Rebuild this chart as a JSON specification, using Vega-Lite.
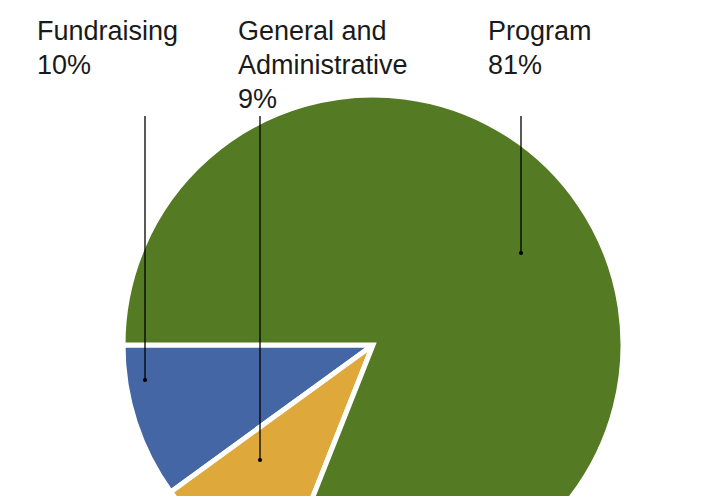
{
  "$schema": "https://vega.github.io/schema/vega-lite/v6.json",
  "width": 682,
  "height": 302,
  "autosize": {"type": "none"},
  "padding": {"left": 32, "top": 194, "right": 0, "bottom": 0},
  "background": "white",
  "config": {"view": {"stroke": null}},
  "data": {
    "values": [
      {"category": "Fundraising", "pct": 10, "order": 1, "label": "Fundraising\n10%"},
      {"category": "General and Administrative", "pct": 9, "order": 2, "label": "General and\nAdministrative\n9%"},
      {"category": "Program", "pct": 81, "order": 3, "label": "Program\n81%"}
    ]
  },
  "layer": [
    {
      "mark": {"type": "arc", "outerRadius": 250, "stroke": "white", "strokeWidth": 5},
      "encoding": {
        "theta": {"field": "pct", "type": "quantitative", "stack": true, "scale": {"range": [4.71239, 10.99557]}},
        "order": {"field": "order", "sort": "descending"},
        "color": {
          "field": "category",
          "type": "nominal",
          "legend": null,
          "scale": {
            "domain": ["Fundraising", "General and Administrative", "Program"],
            "range": ["#4466A5", "#DFA83A", "#557A24"]
          }
        }
      }
    },
    {
      "layer": [
        {
          "mark": {"type": "rule", "color": "#000000", "strokeWidth": 1.3},
          "encoding": {"y2": {"datum": 0}}
        },
        {
          "mark": {"type": "point", "filled": true, "color": "#000000", "size": 18, "opacity": 1}
        }
      ],
      "encoding": {
        "x": {"field": "order", "type": "quantitative", "axis": null,
              "scale": {"domain": [1, 2, 3], "range": [113, 228, 489], "nice": false, "zero": false}},
        "y": {"field": "order", "type": "quantitative", "axis": null,
              "scale": {"domain": [0, 1, 2, 3], "range": [-78, 186, 266, 59], "nice": false, "zero": false}}
      }
    },
    {
      "mark": {"type": "text", "align": "left", "baseline": "alphabetic", "lineBreak": "\n",
               "font": "Liberation Sans", "fontSize": 27, "lineHeight": 34, "color": "#1a1a1a"},
      "encoding": {
        "x": {"field": "order", "type": "quantitative", "axis": null,
              "scale": {"domain": [1, 2, 3], "range": [5, 206, 456], "nice": false, "zero": false}},
        "y": {"field": "order", "type": "quantitative", "axis": null,
              "scale": {"domain": [1, 3], "range": [-154, -154], "nice": false, "zero": false}},
        "text": {"field": "label"}
      }
    }
  ],
  "resolve": {"scale": {"x": "independent", "y": "independent"}}
}
